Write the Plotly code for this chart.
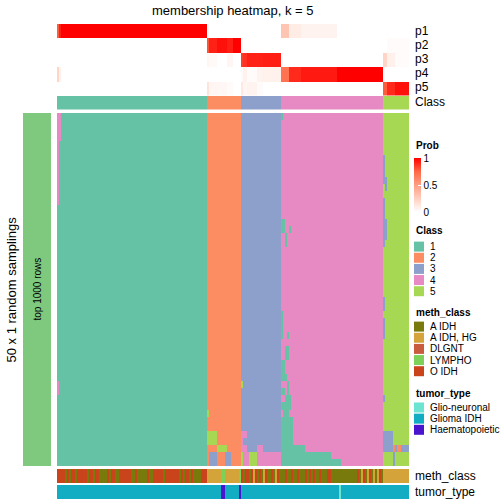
import plotly.graph_objects as go

# ---------------- data ----------------
class_labels = ["1", "2", "3", "4", "5"]
class_colors = ["#66C2A5", "#FC8D62", "#8DA0CB", "#E78AC3", "#A6D854"]
class_counts = [75, 17, 20, 51, 13]          # samples per consensus class (column order)

# membership probability runs: (n columns, p1, p2, p3, p4, p5)
prob_runs = [
    (1, 0.78, 0, 0, 0.22, 0), (1, 0.93, 0, 0, 0.07, 0), (73, 1, 0, 0, 0, 0),
    (1, 0, 0.80, 0.05, 0, 0.15), (4, 0, 0.92, 0.03, 0, 0.05), (5, 0, 0.96, 0, 0, 0.04),
    (3, 0, 0.93, 0.05, 0, 0.02), (4, 0, 1, 0, 0, 0),
    (1, 0, 0, 0.85, 0.03, 0.12), (2, 0, 0, 0.88, 0.07, 0.05), (5, 0, 0, 0.92, 0.02, 0.06),
    (3, 0, 0, 0.92, 0.06, 0.02), (9, 0, 0, 0.93, 0.07, 0),
    (4, 0.30, 0, 0, 0.70, 0), (6, 0.10, 0, 0, 0.90, 0), (18, 0.06, 0, 0, 0.94, 0), (23, 0, 0, 0, 1, 0),
    (2, 0, 0, 0.22, 0, 0.78), (4, 0, 0.02, 0.08, 0, 0.90), (7, 0, 0.02, 0.02, 0, 0.96),
]
prob_rows = ["p1", "p2", "p3", "p4", "p5"]

# class calls of the 50 random samplings that differ from the consensus class
# (first sampling, last sampling, first column, last column, class)
sampling_deviations = [
    (0, 12, 0, 0, 4), (0, 3, 1, 1, 4), (38, 39, 0, 0, 4),
    (42, 42, 75, 75, 5), (45, 46, 75, 79, 5), (47, 47, 80, 84, 5), (48, 49, 76, 79, 3), (48, 49, 84, 86, 3),
    (38, 38, 92, 92, 5), (45, 45, 92, 94, 4), (46, 46, 92, 92, 4), (47, 47, 92, 94, 4), (47, 47, 100, 102, 4),
    (48, 49, 92, 92, 5), (48, 49, 93, 95, 4), (48, 49, 96, 99, 5), (48, 49, 100, 111, 4),
    (0, 0, 112, 112, 1), (15, 16, 112, 113, 1), (16, 16, 116, 116, 1), (17, 18, 114, 114, 1),
    (28, 31, 112, 112, 1), (31, 31, 115, 115, 1), (33, 34, 114, 115, 1), (35, 36, 112, 113, 1),
    (37, 37, 112, 114, 1), (38, 39, 115, 115, 1), (39, 39, 112, 113, 1), (40, 40, 114, 116, 1),
    (41, 41, 112, 116, 1), (42, 42, 113, 115, 1), (43, 46, 112, 117, 1), (47, 47, 112, 123, 1),
    (48, 48, 112, 136, 1), (49, 49, 112, 141, 1),
    (6, 9, 163, 163, 3), (9, 10, 164, 164, 3), (12, 18, 163, 163, 3), (15, 17, 164, 164, 3),
    (26, 27, 163, 163, 3), (29, 31, 163, 163, 3), (40, 40, 163, 163, 3), (45, 47, 163, 167, 3),
    (47, 47, 168, 168, 2), (47, 47, 169, 169, 3), (47, 47, 170, 171, 2), (47, 47, 172, 175, 3),
    (48, 49, 168, 168, 3),
]
n_samplings = 50

meth_names = {"A": "A IDH", "H": "A IDH, HG", "D": "DLGNT", "L": "LYMPHO", "O": "O IDH"}
meth_order = ["A IDH", "A IDH, HG", "DLGNT", "LYMPHO", "O IDH"]
meth_colors = ["#787A0C", "#D4A33A", "#C95C3C", "#7DD158", "#C9441A"]
meth_codes = ("OOOOAOAOOA" "OOOOOAOOAO" "OAAAAOAOOA" "AOOOOOOAAO" "AAAAAOAAOO"
              "OOOAOOOOOO" "OAOAOOAOAA" "AAOOO"
              "HHHHHHHLLHHHHHHHL"
              "OAOOAOHOAOAHOAAOAHOA"
              "AAOAAOAAOA" "AAOAOAOAAO" "AAAOOAAAAA" "AAAAAAAAOA" "HOAHOAHAHO" "A"
              "HHHHHHHHHHHHH")

tumor_names = {"N": "Glio-neuronal", "G": "Glioma IDH", "H": "Haematopoietic"}
tumor_order = ["Glio-neuronal", "Glioma IDH", "Haematopoietic"]
tumor_colors = ["#6DE3D2", "#12ADC2", "#4A14CF"]
tumor_codes = "G" * 82 + "HH" + "G" * 7 + "H" + "G" * 49 + "N" + "G" * 34

# ---------------- build matrices ----------------
col_class = []
for k, n in enumerate(class_counts):
    col_class += [k + 1] * n
N = len(col_class)

prob = [[] for _ in range(5)]
for run in prob_runs:
    n = run[0]
    for i in range(5):
        prob[i] += [run[i + 1]] * n

membership = [list(col_class) for _ in range(n_samplings)]
for r0, r1, c0, c1, cl in sampling_deviations:
    for r in range(r0, r1 + 1):
        for c in range(c0, c1 + 1):
            membership[r][c] = cl

meth_z = [[meth_order.index(meth_names[ch]) + 1 for ch in meth_codes]]
tumor_z = [[tumor_order.index(tumor_names[ch]) + 1 for ch in tumor_codes]]


def discrete(colors):
    n = len(colors)
    s = []
    for i, c in enumerate(colors):
        s += [[i / n, c], [(i + 1) / n, c]]
    return s


W = H = 504


def fx(p):
    return p / W


def fy(p):
    return 1 - p / H


prob_scale = [[0, "#FFFFFF"], [0.25, "#FFCFBF"], [0.5, "#FF9E82"], [0.75, "#FF6846"], [1, "#FF0000"]]

FONT = "Liberation Sans, Arial, Helvetica, sans-serif"

fig = go.Figure()
xs = list(range(N))

fig.add_trace(go.Heatmap(z=prob, x=xs, y=list(range(5)), zmin=0, zmax=1, colorscale=prob_scale,
                         xaxis="x", yaxis="y", hoverinfo="skip",
                         colorbar=dict(x=fx(414), xanchor="left", xpad=0, ypad=0, y=fy(185), yanchor="middle",
                                       len=54 / H, lenmode="fraction", thickness=7, outlinewidth=0,
                                       tickvals=[0, 0.5, 1], ticktext=["0", "0.5", "1"],
                                       ticks="inside", ticklen=3, tickcolor="white",
                                       tickfont=dict(size=10, family=FONT, color="black"))))
fig.add_trace(go.Heatmap(z=[col_class], x=xs, y=[0], zmin=0.5, zmax=5.5, colorscale=discrete(class_colors),
                         showscale=False, xaxis="x", yaxis="y2", hoverinfo="skip"))
fig.add_trace(go.Heatmap(z=membership, x=xs, y=list(range(n_samplings)), zmin=0.5, zmax=5.5,
                         colorscale=discrete(class_colors), showscale=False, xaxis="x", yaxis="y3",
                         hoverinfo="skip"))
fig.add_trace(go.Heatmap(z=meth_z, x=xs, y=[0], zmin=0.5, zmax=5.5, colorscale=discrete(meth_colors),
                         showscale=False, xaxis="x", yaxis="y4", hoverinfo="skip"))
fig.add_trace(go.Heatmap(z=tumor_z, x=xs, y=[0], zmin=0.5, zmax=3.5, colorscale=discrete(tumor_colors),
                         showscale=False, xaxis="x", yaxis="y5", hoverinfo="skip"))
fig.add_trace(go.Heatmap(z=[[1]], x=[0], y=[0], zmin=0, zmax=1, colorscale=[[0, "#7FC97F"], [1, "#7FC97F"]],
                         showscale=False, xaxis="x2", yaxis="y6", hoverinfo="skip"))

hidden = dict(visible=False, showgrid=False, zeroline=False, fixedrange=True)
fig.update_layout(
    width=W, height=H, autosize=False, margin=dict(l=0, r=0, t=0, b=0, pad=0),
    paper_bgcolor="white", plot_bgcolor="white", showlegend=False,
    xaxis=dict(domain=[fx(57), fx(409)], range=[-0.5, N - 0.5], anchor="y3", **hidden),
    xaxis2=dict(domain=[fx(23), fx(51)], range=[-0.5, 0.5], anchor="y6", **hidden),
    yaxis=dict(domain=[fy(95.5), fy(24)], range=[4.5, -0.5], anchor="x", **hidden),
    yaxis2=dict(domain=[fy(109.5), fy(96)], range=[0.5, -0.5], anchor="x", **hidden),
    yaxis3=dict(domain=[fy(466), fy(113)], range=[n_samplings - 0.5, -0.5], anchor="x", **hidden),
    yaxis4=dict(domain=[fy(483), fy(469)], range=[0.5, -0.5], anchor="x", **hidden),
    yaxis5=dict(domain=[fy(499), fy(485)], range=[0.5, -0.5], anchor="x", **hidden),
    yaxis6=dict(domain=[fy(466), fy(113)], range=[0.5, -0.5], anchor="x2", **hidden),
)

ann = []


def text(x, y, s, size=12, xanchor="left", bold=False, angle=0):
    ann.append(dict(x=fx(x), y=fy(y), xref="paper", yref="paper", text=("<b>%s</b>" % s) if bold else s,
                    showarrow=False, xanchor=xanchor, yanchor="middle", textangle=angle,
                    font=dict(size=size, family=FONT, color="black")))


text(233, 10, "membership heatmap, k = 5", size=13, xanchor="center")
for i, p in enumerate(prob_rows):
    text(413, 31 + 14 * i, p)
text(413, 102.5, "Class")
text(413, 476, "meth_class")
text(413, 492, "tumor_type")
text(11, 289.5, "50 x 1 random samplings", size=13, xanchor="center", angle=-90)
text(37, 289.5, "top 1000 rows", size=10, xanchor="center", angle=-90)

# legends
shapes = []


def legend(title, ytitle, labels, colors, y0):
    text(414, ytitle, title, size=10, bold=True)
    for i, (lab, col) in enumerate(zip(labels, colors)):
        yc = y0 + 11.15 * i
        shapes.append(dict(type="rect", xref="paper", yref="paper", x0=fx(414), x1=fx(424),
                           y0=fy(yc + 5), y1=fy(yc - 5), fillcolor=col, line=dict(width=0)))
        text(428, yc, lab, size=10)


text(414, 145, "Prob", size=10, bold=True)
legend("Class", 231, class_labels, class_colors, 246.6)
legend("meth_class", 312, meth_order, meth_colors, 326.6)
legend("tumor_type", 393, tumor_order, tumor_colors, 407.5)

fig.update_layout(annotations=ann, shapes=shapes)
fig.write_html("out.html", config={"responsive": False, "displayModeBar": False},
               post_script="document.body.style.margin='0';document.body.style.overflow='hidden';")
